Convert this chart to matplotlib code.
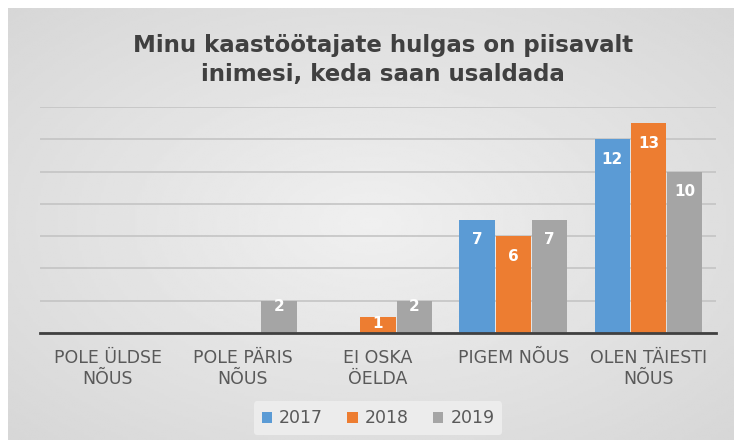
import matplotlib.pyplot as plt
import numpy as np

plt.rcParams['font.family'] = ['DejaVu Sans']

title = "Minu kaastöötajate hulgas on piisavalt\ninimesi, keda saan usaldada"
categories = ["POLE ÜLDSE\nNÕUS", "POLE PÄRIS\nNÕUS", "EI OSKA\nÖELDA", "PIGEM NÕUS", "OLEN TÄIESTI\nNÕUS"]
years = ["2017", "2018", "2019"]
v2017 = [0, 0, 0, 7, 12]
v2018 = [0, 0, 1, 6, 13]
v2019 = [0, 2, 2, 7, 10]
colors = ["#5B9BD5", "#ED7D31", "#A5A5A5"]

fig = plt.figure(figsize=(7.34, 4.44), dpi=100)
fig.patch.set_facecolor("white")

# card background with soft radial shading
bg = fig.add_axes([8 / 734, 4 / 444, 726 / 734, 432 / 444])
yy, xx = np.mgrid[-1:1:200j, -1:1:300j]
r = np.sqrt(xx ** 2 + yy ** 2)
bg.imshow(np.clip(0.94 - 0.07 * r, 0, 1), cmap="gray", vmin=0, vmax=1, aspect="auto", extent=[0, 1, 0, 1])
bg.set_axis_off()

ax = fig.add_axes([40 / 734, 111 / 444, 676 / 734, 226 / 444])
ax.set_facecolor("none")

x = np.arange(len(categories))
w = 0.26
series = [v2017, v2018, v2019]
for i, (vals, c, lab) in enumerate(zip(series, colors, years)):
    pos = x + (i - 1) * (w + 0.008)
    bars = ax.bar(pos, vals, width=w, color=c, label=lab, zorder=3)
    for b, v in zip(bars, vals):
        if v == 0:
            continue
        if v >= 5:
            off, va = -9, "top"
        else:
            off, va = -4.5, "center"
        ax.annotate(str(v), (b.get_x() + b.get_width() / 2, v), xytext=(0, off),
                    textcoords="offset points", ha="center", va=va,
                    color="white", fontsize=11, fontweight="bold", zorder=4)

ax.set_xlim(-0.5, len(categories) - 0.5)
ax.set_ylim(0, 14)
ax.set_yticks(np.arange(0, 15, 2))
ax.yaxis.grid(True, color="#c4c4c4", linewidth=1.2, zorder=0)
ax.tick_params(axis="y", left=False, labelleft=False)
ax.tick_params(axis="x", bottom=False, pad=8)
ax.set_xticks(x)
ax.set_xticklabels(categories, fontsize=12.5, color="#595959", linespacing=1.2)
for s in ["top", "right", "left"]:
    ax.spines[s].set_visible(False)
ax.spines["bottom"].set_color("#404040")
ax.spines["bottom"].set_linewidth(2)
ax.spines["bottom"].set_zorder(5)

fig.text(0.522, 0.865, title, ha="center", va="center", fontsize=16.5, fontweight="bold",
         color="#404040", linespacing=1.3)

leg = fig.legend(loc="center", bbox_to_anchor=(0.515, 0.058), ncol=3, frameon=True,
                 fontsize=12.5, handlelength=0.6, handleheight=0.6, handletextpad=0.4,
                 columnspacing=1.4, borderpad=0.45)
leg.get_frame().set_facecolor("#ececec")
leg.get_frame().set_edgecolor("none")
leg.get_frame().set_alpha(1)
for t in leg.get_texts():
    t.set_color("#595959")

fig.savefig("out.png", dpi=100)
